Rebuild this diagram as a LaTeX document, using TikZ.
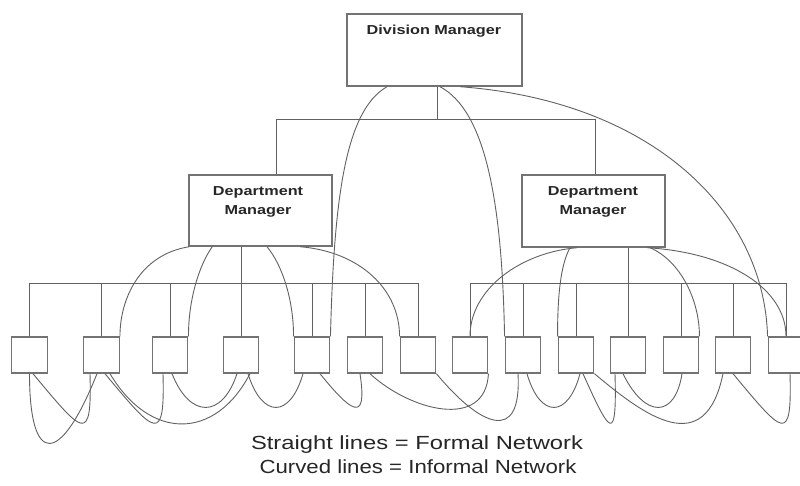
\documentclass[tikz,border=0pt]{standalone}
\usepackage{fontspec}
\setmainfont{Liberation Sans}[FakeStretch=1.25]
\newfontfamily\narrowleg{Liberation Sans}[FakeStretch=1.17]
\tikzset{
  formal/.style={draw=black!62, line width=1pt},
  informal/.style={draw=black!62, line width=0.9pt},
  emp/.style={draw=black!55, line width=1.4pt, minimum width=35.5pt, minimum height=36pt, inner sep=0pt},
  mgr/.style={draw=black!55, line width=1.4pt, inner sep=0pt},
  mgrtext/.style={font=\bfseries\fontsize{13}{19}\selectfont, text=black!85, align=center, inner sep=0pt},
  legend/.style={font=\fontsize{19}{23}\selectfont, text=black!85, inner sep=0pt, anchor=base},
}
\begin{document}
\begin{tikzpicture}[x=1pt,y=-1pt]
\useasboundingbox (0,0) rectangle (800,486);
% managers
\node[mgr, minimum width=175pt, minimum height=72pt] (div) at (434.5,50) {};
\node[mgrtext] (divt) at (434,31) {Division Manager};
\node[mgr, minimum width=143pt, minimum height=71pt] (dl) at (260.5,210.5) {};
\node[mgrtext] (dlt) at (258,202) {Department\\Manager};
\node[mgr, minimum width=143pt, minimum height=72pt] (dr) at (593.5,211) {};
\node[mgrtext] (drt) at (593,202) {Department\\Manager};
% employees
\foreach \n/\x in {1/29.5,2/101.5,3/170,4/241,5/312,6/365,7/418,8/470,9/523,10/576,11/628,12/681,13/733,14/786}
  \node[emp] (b\n) at (\x,355) {};
% formal network
\coordinate (dvx) at (437,120);
\coordinate (tl) at (276,120);
\coordinate (tr) at (595,120);
\draw[formal] (dvx |- div.south) -- (dvx);
\draw[formal] (tl |- dl.north) -- (tl) -- (tr) -- (tr |- dr.north);
\coordinate (lbar) at (0,283);
\draw[formal] (b1.north) |- (b7.north |- lbar) -- (b7.north);
\foreach \n in {2,3,5,6} \draw[formal] (b\n.north) -- (b\n.north |- lbar);
\draw[formal] (b4.north |- dl.south) -- (b4.north);
\draw[formal] (b8.north) |- (b14.north |- lbar) -- (b14.north);
\foreach \n in {9,10,12,13} \draw[formal] (b\n.north) -- (b\n.north |- lbar);
\draw[formal] (b11.north |- dr.south) -- (b11.north);
% informal network: from division manager
\draw[informal] ([xshift=-47.5pt]div.south) .. controls +(-42,24) and +(3.5,-137) .. (b5.north east);
\draw[informal] ([xshift=5.5pt]div.south) .. controls +(45,24) and +(-2.5,-137) .. (b9.north west);
\draw[informal] ([xshift=25.5pt]div.south) .. controls +(190,14) and +(-3.5,-127) .. (b14.north west);
% from left department manager
\draw[informal] ([xshift=1pt]dl.south west) .. controls +(-50,8) and +(0,-37) .. (b2.north east);
\draw[informal] ([xshift=24pt]dl.south west) .. controls +(-13,18) and +(0,-37) .. (b3.north east);
\draw[informal] ([xshift=6.5pt]dl.south) .. controls +(15,18) and +(0,-37) .. (b5.north west);
\draw[informal] ([xshift=39.5pt]dl.south) .. controls +(60,5) and +(0,-47) .. (b7.north west);
% from right department manager
\draw[informal] ([xshift=-16.5pt]dr.south) .. controls +(-57,5) and +(0,-47) .. (b8.north);
\draw[informal] ([xshift=-23.5pt]dr.south) .. controls +(-10,18) and +(0,-37) .. (b10.north west);
\draw[informal] ([xshift=53.5pt]dr.south) .. controls +(83,5) and +(0,-47) .. (b14.north);
\draw[informal] ([xshift=56.5pt]dr.south) .. controls +(30,13) and +(0,-37) .. (b12.north east);
% among employees
\draw[informal] (b1.south) .. controls +(0,93) and +(-37,93) .. ([xshift=-4.5pt]b2.south);
\draw[informal] ([xshift=3.5pt]b1.south) .. controls +(50,60) and +(2,72) .. ([xshift=-11.5pt]b2.south);
\draw[informal] ([xshift=3.5pt]b2.south) .. controls +(50,60) and +(2,72) .. ([xshift=-7pt]b3.south);
\draw[informal] ([xshift=8.5pt]b2.south) .. controls +(40,67) and +(-35,67) .. ([xshift=9pt]b4.south);
\draw[informal] ([xshift=2pt]b3.south) .. controls +(18,45) and +(-15,45) .. ([xshift=-4pt]b4.south);
\draw[informal] ([xshift=7pt]b4.south) .. controls +(14,45) and +(-13,45) .. ([xshift=-9pt]b5.south);
\draw[informal] ([xshift=8pt]b5.south) .. controls +(30,37) and +(8,52) .. ([xshift=-5pt]b6.south);
\draw[informal] ([xshift=5pt]b6.south) .. controls +(40,37) and +(-3,57) .. (b8.south east);
\draw[informal] (b7.south east) .. controls +(43,52) and +(4,72) .. ([xshift=-5pt]b9.south);
\draw[informal] ([xshift=4pt]b9.south) .. controls +(13,45) and +(-12,45) .. ([xshift=4pt]b10.south);
\draw[informal] ([xshift=7pt]b10.south) .. controls +(27,60) and +(2,72) .. ([xshift=-13pt]b11.south);
\draw[informal] (b10.south east) .. controls +(50,42) and +(-18,87) .. ([xshift=-10pt]b13.south);
\draw[informal] ([xshift=-5pt]b11.south) .. controls +(22,45) and +(-7,45) .. ([xshift=1pt]b12.south);
\draw[informal] (b13.south) .. controls +(50,60) and +(2,72) .. ([xshift=4pt]b14.south);
% legend
\node[legend] (leg1) at (417,449) {Straight lines = Formal Network};
\node[legend, font=\narrowleg\fontsize{19}{23}\selectfont] (leg2) at (418,473) {Curved lines = Informal Network};
\end{tikzpicture}
\end{document}
